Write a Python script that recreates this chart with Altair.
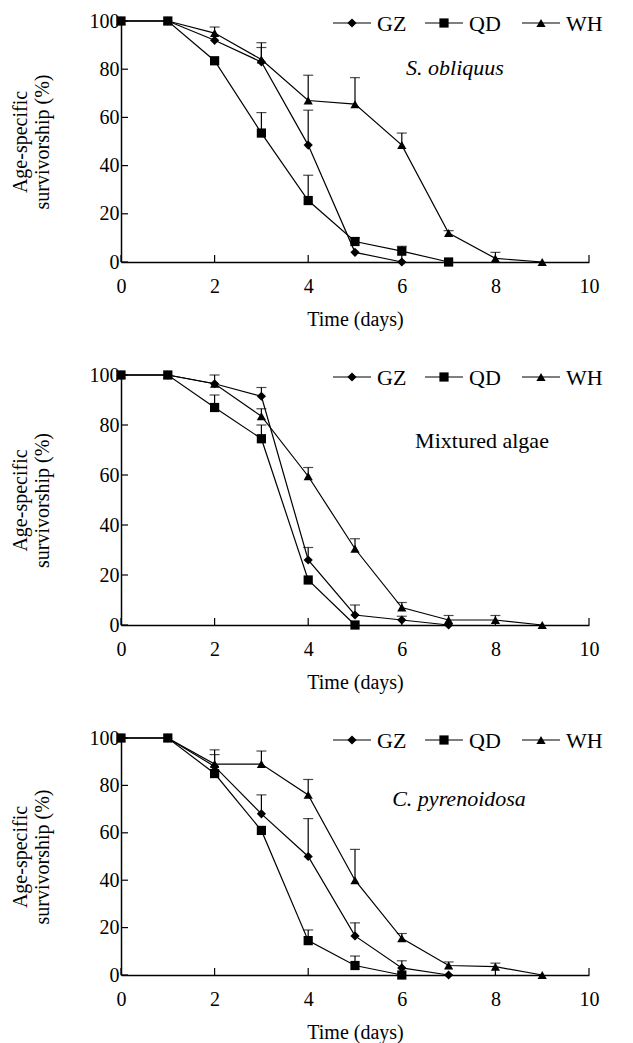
import altair as alt
import pandas as pd

SERIES = ["GZ", "QD", "WH"]
SHAPES = ["diamond", "square", "triangle-up"]
X_TICKS = [0, 2, 4, 6, 8, 10]
Y_TICKS = [0, 20, 40, 60, 80, 100]

# ---- Panel 1: S. obliquus ----
p1_gz = [100, 100, 92, 83, 48.5, 4, 0]
p1_gz_err = [0, 0, 0, 6, 14.5, 0, 0]
p1_qd = [100, 100, 83.5, 53.5, 25.5, 8.5, 4.5, 0]
p1_qd_err = [0, 0, 0, 8.5, 10.5, 1.5, 2, 0]
p1_wh = [100, 100, 95, 84, 67, 65.5, 48.5, 12, 1.5, 0]
p1_wh_err = [0, 0, 2.5, 7, 10.5, 11, 5, 1, 2.5, 0]

# ---- Panel 2: Mixtured algae ----
p2_gz = [100, 100, 96.5, 91.5, 26, 4, 2, 0]
p2_gz_err = [0, 0, 0, 3.5, 5, 4, 1.5, 0]
p2_qd = [100, 100, 87, 74.5, 18, 0]
p2_qd_err = [0, 0, 5, 5.5, 0, 0]
p2_wh = [100, 100, 96.5, 83.5, 59.5, 30.5, 7, 2, 2, 0]
p2_wh_err = [0, 0, 3.5, 3, 3.5, 4, 2, 1.8, 1.8, 0]

# ---- Panel 3: C. pyrenoidosa ----
p3_gz = [100, 100, 88, 68, 50, 16.5, 3, 0]
p3_gz_err = [0, 0, 7, 8, 16, 5.5, 3, 0]
p3_qd = [100, 100, 85, 61, 14.5, 4, 0]
p3_qd_err = [0, 0, 0, 0, 4.5, 4, 0]
p3_wh = [100, 100, 89, 89, 76, 40, 15.5, 4, 3.5, 0]
p3_wh_err = [0, 0, 4, 5.5, 6.5, 13, 2, 1.5, 1.5, 0]

FONT = "Liberation Serif"
# legend item layout (pixels from the plot's left edge)
LEG_LINE_START = [212, 304, 401]
LEG_LINE_LEN = 38
LEG_LABEL_GAP = 6
LEG_Y = 2


def build(gz, gz_e, qd, qd_e, wh, wh_e):
    rows = []
    for name, vals, errs in (("GZ", gz, gz_e), ("QD", qd, qd_e), ("WH", wh, wh_e)):
        for d, (v, e) in enumerate(zip(vals, errs)):
            rows.append({"series": name, "day": d, "value": v, "err": e, "upper": v + e})
    return pd.DataFrame(rows)


def legend_layers():
    layers = []
    for name, shape, s in zip(SERIES, SHAPES, LEG_LINE_START):
        d = alt.Chart(pd.DataFrame({"series": [name]}))
        layers.append(d.mark_rule(color="black", strokeWidth=1.2).encode(
            x=alt.value(s), x2=alt.value(s + LEG_LINE_LEN), y=alt.value(LEG_Y)))
        layers.append(d.mark_point(filled=True, color="black", opacity=1, size=85).encode(
            x=alt.value(s + LEG_LINE_LEN / 2), y=alt.value(LEG_Y), shape=alt.value(shape)))
        layers.append(d.mark_text(font=FONT, fontSize=22, color="black", align="left",
                                  baseline="middle").encode(
            x=alt.value(s + LEG_LINE_LEN + LEG_LABEL_GAP), y=alt.value(LEG_Y + 1), text="series:N"))
    return layers


def panel(df, h, label, italic, lx, ly):
    xdef = alt.X(
        "day:Q",
        scale=alt.Scale(domain=[0, 10], nice=False, zero=False),
        axis=alt.Axis(values=X_TICKS, title="Time (days)", format="d"),
    )
    yaxis = alt.Axis(values=Y_TICKS, title=["Age-specific", "survivorship (%)"])
    yscale = alt.Scale(domain=[0, 100], nice=False)
    ydef = alt.Y("value:Q", scale=yscale, axis=yaxis)
    base = alt.Chart(df)
    line = base.mark_line(color="black", strokeWidth=1.2).encode(x=xdef, y=ydef, detail="series:N")
    errdf = df[df["err"] > 0]
    err = alt.Chart(errdf).mark_rule(color="black", strokeWidth=1.2).encode(
        x=xdef, y=ydef, y2="upper:Q")
    cap = alt.Chart(errdf).mark_tick(color="black", orient="horizontal", size=10, thickness=1.2).encode(
        x=xdef, y=alt.Y("upper:Q", scale=yscale, axis=yaxis))
    pts = base.mark_point(filled=True, color="black", opacity=1, size=85).encode(
        x=xdef, y=ydef,
        shape=alt.Shape("series:N", scale=alt.Scale(domain=SERIES, range=SHAPES), legend=None))
    xt = alt.Chart(pd.DataFrame({"day": X_TICKS})).mark_rule(color="black", strokeWidth=1.2).encode(
        x=xdef, y=alt.value(h), y2=alt.value(h - 7))
    yt = alt.Chart(pd.DataFrame({"value": Y_TICKS})).mark_rule(color="black", strokeWidth=1.2).encode(
        y=ydef, x=alt.value(0), x2=alt.value(7))
    txt = alt.Chart(pd.DataFrame({"t": [label]})).mark_text(
        font=FONT, fontSize=22, fontStyle="italic" if italic else "normal", color="black",
        align="center", baseline="middle").encode(x=alt.value(lx), y=alt.value(ly), text="t:N")
    return alt.layer(xt, yt, line, err, cap, pts, txt, *legend_layers()).properties(width=468, height=h)


c1 = panel(build(p1_gz, p1_gz_err, p1_qd, p1_qd_err, p1_wh, p1_wh_err), 241, "S. obliquus", True, 334, 47)
c2 = panel(build(p2_gz, p2_gz_err, p2_qd, p2_qd_err, p2_wh, p2_wh_err), 250, "Mixtured algae", False, 361, 66)
c3 = panel(build(p3_gz, p3_gz_err, p3_qd, p3_qd_err, p3_wh, p3_wh_err), 237, "C. pyrenoidosa", True, 338, 61)

chart = alt.vconcat(c1, c2, c3, spacing=36).properties(
    padding={"left": 10, "top": 11, "right": 5, "bottom": 2}
).configure_view(stroke=None).configure_axis(
    grid=False, ticks=False, tickSize=0, domainColor="black", domainWidth=1.5,
    labelFont=FONT, labelFontSize=20, labelColor="black",
    titleFont=FONT, titleFontSize=20, titleColor="black", titleFontWeight="normal",
).configure_axisX(labelPadding=14, titlePadding=13, labelFlush=False).configure_axisY(
    labelPadding=2, titlePadding=37, titleLineHeight=22)

chart.save("out.html", embed_options={"renderer": "svg", "actions": False})
